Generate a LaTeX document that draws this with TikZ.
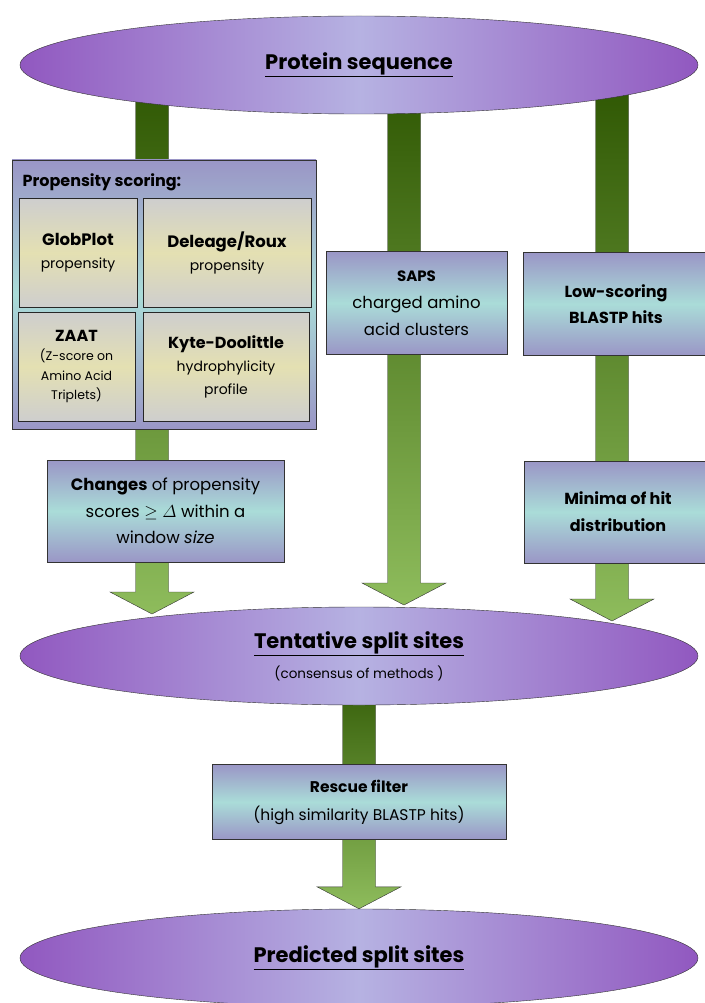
\documentclass[tikz,border=0pt]{standalone}
\usepackage{fontspec}
\setmainfont{Poppins}
\usepackage{tikz}
\usetikzlibrary{shapes.geometric, backgrounds, calc}

\definecolor{ellpurple}{RGB}{145,88,192}
\definecolor{elllight}{RGB}{182,178,226}
\definecolor{boxlav}{RGB}{154,150,198}
\definecolor{boxcyan}{RGB}{170,220,216}
\definecolor{cellgray}{RGB}{206,206,206}
\definecolor{cellyellow}{RGB}{228,224,178}
\definecolor{arrowdark}{RGB}{44,84,0}
\definecolor{arrowlight}{RGB}{142,188,92}

\tikzstyle{ellnode} = [ellipse, draw=black!80, minimum width=678pt, minimum height=98pt, left color=ellpurple, right color=ellpurple, middle color=elllight, align=center, font=\bfseries\fontsize{21}{25}\selectfont]
\tikzstyle{stagebox} = [rectangle, draw=black!80, inner sep=0pt, top color=boxlav, bottom color=boxlav, middle color=boxcyan, align=center, font=\fontsize{16.5}{27}\selectfont]
\tikzstyle{cellbox} = [rectangle, draw=black!85, line width=1pt, inner sep=0pt, top color=cellgray, bottom color=cellgray, middle color=cellyellow, align=center, font=\fontsize{14}{23}\selectfont]

\newcommand{\fatarrow}[2]{%
  \path[draw=black!80, top color=arrowdark, bottom color=arrowlight]
    let \p1=(#1), \p2=(#2) in
    (\x1-16.5pt,\y1) -- (\x1+16.5pt,\y1) -- (\x1+16.5pt,\y2+22pt) -- (\x1+42pt,\y2+22pt)
    -- (\x2,\y2) -- (\x1-42pt,\y2+22pt) -- (\x1-16.5pt,\y2+22pt) -- cycle;}

\begin{document}
\begin{tikzpicture}[x=1pt, y=-1pt]
    \useasboundingbox (0,0) rectangle (704,1003);

    \node[ellnode] (seq) at (359,65) {\underline{Protein sequence}};
    \node[ellnode] (tent) at (359,656) {\underline{Tentative split sites}\\[5pt]{\mdseries\fontsize{13.5}{18}\selectfont (consensus of methods )}};
    \node[ellnode] (pred) at (359,958) {\underline{Predicted split sites}};

    \node[stagebox, minimum width=304pt, minimum height=269pt] (prop) at (164,294.5) {};
    \node[anchor=west, font=\bfseries\fontsize{16}{18}\selectfont] (proptitle) at (19,182) {Propensity scoring:};
    \node[cellbox, minimum width=118pt, minimum height=109pt] (globplot) at (78,253) {{\bfseries\fontsize{16.5}{23}\selectfont GlobPlot}\\propensity};
    \node[cellbox, minimum width=168pt, minimum height=109pt] (deleage) at (227,253) {{\bfseries\fontsize{16.5}{23}\selectfont Deleage/Roux}\\propensity};
    \node[cellbox, minimum width=117pt, minimum height=109pt, font=\fontsize{12.5}{19.5}\selectfont] (zaat) at (76.5,366.5) {{\bfseries\fontsize{16}{21}\selectfont ZAAT}\\(Z-score on\\Amino Acid\\Triplets)};
    \node[cellbox, minimum width=166pt, minimum height=109pt] (kyte) at (226,366.5) {{\bfseries\fontsize{16}{23}\selectfont Kyte-Doolittle}\\hydrophylicity\\profile};

    \node[stagebox, minimum width=237pt, minimum height=102pt, font=\fontsize{16.5}{26.5}\selectfont] (changes) at (165.5,511) {\textbf{Changes} of propensity\\scores $\geq \mathnormal{\Delta}$ within a\\window \textit{size}};
    \node[stagebox, minimum width=181pt, minimum height=103pt] (saps) at (416.5,303) {{\bfseries\fontsize{15}{27}\selectfont SAPS}\\charged amino\\acid clusters};
    \node[stagebox, minimum width=186pt, minimum height=103pt, font=\bfseries\fontsize{16}{26}\selectfont] (lowscore) at (616,304) {Low-scoring\\BLASTP hits};
    \node[stagebox, minimum width=188pt, minimum height=102pt, font=\bfseries\fontsize{16}{27}\selectfont] (minima) at (618,512) {Minima of hit\\distribution};
    \node[stagebox, minimum width=294pt, minimum height=75pt, font=\fontsize{15.5}{28}\selectfont] (rescue) at (359,802) {\textbf{Rescue filter}\\(high similarity BLASTP hits)};

    \begin{scope}[on background layer]
        \coordinate (tipL) at (152,614);
        \coordinate (tipM) at (404,605);
        \coordinate (tipR) at (612,621);
        \fatarrow{seq.center -| tipL}{tipL}
        \fatarrow{seq.center -| tipM}{tipM}
        \fatarrow{seq.center -| tipR}{tipR}
        \fatarrow{tent.center}{pred.north}
    \end{scope}
\end{tikzpicture}
\end{document}
